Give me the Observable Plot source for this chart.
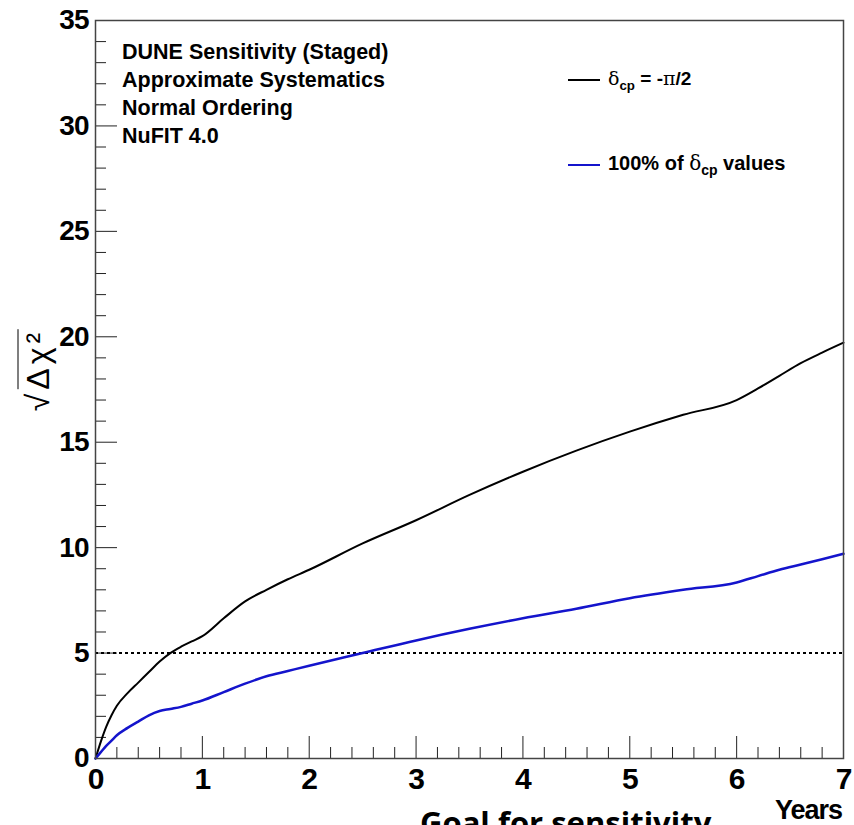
<!DOCTYPE html>
<html><head><meta charset="utf-8">
<script src="https://cdn.jsdelivr.net/npm/d3@7"></script>
<script src="https://cdn.jsdelivr.net/npm/@observablehq/plot@0.6"></script>
<style>
html,body{margin:0;padding:0;background:#fff;overflow:hidden;}
#wrap{position:relative;width:854px;height:825px;overflow:hidden;background:#fff;}
#wrap svg{position:absolute;left:0;top:0;}
.nb{font-family:"Liberation Sans",Arial,Helvetica,sans-serif;font-weight:bold;color:#000;}
.ov{position:absolute;white-space:nowrap;}
.sym{font-family:"DejaVu Serif","Liberation Serif",serif;font-weight:normal;}
.sw{display:inline-block;width:32px;height:2px;vertical-align:middle;margin-right:8px;}
sub{font-size:70%;vertical-align:-5px;line-height:0;}
#ytitle{position:absolute;left:38px;top:370px;transform:translate(-50%,-50%) rotate(-90deg);font-family:"Liberation Sans",Arial,sans-serif;font-size:32px;white-space:nowrap;letter-spacing:4px;}
#ytitle .rad{border-top:1.5px solid #000;padding-top:1px;}
</style></head><body>
<div id="wrap"></div>
<script>
// Data
const years         = [0, 0.05, 0.1, 0.15, 0.2, 0.3, 0.4, 0.5, 0.6, 0.7, 0.8, 0.9, 1.0, 1.2, 1.4, 1.6, 1.8, 2.0, 2.5, 3.0, 3.5, 4.0, 4.5, 5.0, 5.5, 6.0, 6.2, 6.4, 6.6, 6.8, 7.0];
const deltaMinusPi2 = [0, 0.8, 1.5, 2.05, 2.5, 3.1, 3.6, 4.1, 4.6, 5.0, 5.3, 5.55, 5.8, 6.65, 7.45, 8.0, 8.5, 8.95, 10.2, 11.3, 12.5, 13.6, 14.6, 15.5, 16.3, 17.0, 17.55, 18.15, 18.75, 19.25, 19.72];
const allDeltaCP    = [0, 0.3, 0.6, 0.85, 1.1, 1.45, 1.75, 2.05, 2.25, 2.35, 2.45, 2.6, 2.75, 3.15, 3.55, 3.9, 4.15, 4.4, 5.0, 5.6, 6.15, 6.65, 7.1, 7.6, 8.0, 8.35, 8.65, 8.95, 9.2, 9.45, 9.71];
const goalLevel = [5];
const xMajorTicks = [0, 1, 2, 3, 4, 5, 6, 7];
const xMinorTicks = [0.2,0.4,0.6,0.8,1.2,1.4,1.6,1.8,2.2,2.4,2.6,2.8,3.2,3.4,3.6,3.8,4.2,4.4,4.6,4.8,5.2,5.4,5.6,5.8,6.2,6.4,6.6,6.8];
const yMajorTicks = [0, 5, 10, 15, 20, 25, 30, 35];
const yMinorTicks = [1,2,3,4,6,7,8,9,11,12,13,14,16,17,18,19,21,22,23,24,26,27,28,29,31,32,33,34];
const annotationLines = ["DUNE Sensitivity (Staged)", "Approximate Systematics", "Normal Ordering", "NuFIT 4.0"];
const seriesColors = {minusPi2: "#000000", all: "#1414cc"};

const rows = years.map((t, i) => ({t, a: deltaMinusPi2[i], b: allDeltaCP[i]}));
const FF = '"Liberation Sans",Arial,Helvetica,sans-serif';

const chart = Plot.plot({
  width: 854, height: 825,
  marginLeft: 95, marginRight: 11, marginTop: 20, marginBottom: 67,
  x: {domain: [0, 7], label: null},
  y: {domain: [0, 35], label: null},
  style: {background: "transparent", overflow: "visible"},
  marks: [
    Plot.axisX(xMinorTicks, {tickSize: -11, tickFormat: () => "", stroke: "#222", label: null}),
    Plot.axisX(xMajorTicks, {tickSize: -22, tickPadding: 31, tickFormat: d => String(d), stroke: "#222", fill: "#000",
      fontSize: 30, fontFamily: FF, fontWeight: "bold", label: null}),
    Plot.axisY(yMinorTicks, {tickSize: -11, tickFormat: () => "", stroke: "#222", label: null}),
    Plot.axisY(yMajorTicks, {tickSize: -22, tickPadding: 29, tickFormat: d => String(d), stroke: "#222", fill: "#000",
      fontSize: 28, fontFamily: FF, fontWeight: "bold", label: null}),
    Plot.ruleY(goalLevel, {stroke: "#000", strokeWidth: 2, strokeDasharray: "3,3"}),
    Plot.line(rows, {x: "t", y: "a", stroke: seriesColors.minusPi2, strokeWidth: 2, curve: "monotone-x"}),
    Plot.line(rows, {x: "t", y: "b", stroke: seriesColors.all, strokeWidth: 2.5, curve: "monotone-x"}),
    Plot.frame({stroke: "#444", strokeWidth: 1.5})
  ]
});
const wrap = document.getElementById("wrap");
wrap.appendChild(chart);
chart.querySelectorAll("[aria-label$='tick label'] text").forEach(t => t.setAttribute("letter-spacing", "-1"));

// Annotation block
const ann = document.createElement("div");
ann.className = "ov nb";
ann.style.cssText = "left:122px;top:38px;font-size:21.5px;line-height:28px;";
ann.innerHTML = annotationLines.join("<br>");
wrap.appendChild(ann);

// Legend
const leg1 = document.createElement("div");
leg1.className = "ov nb";
leg1.style.cssText = "left:568px;top:66px;font-size:19px;line-height:24px;";
leg1.innerHTML = `<span class="sw" style="background:${seriesColors.minusPi2}"></span><span class="sym">δ</span><sub>cp</sub> = -<span class="sym">π</span>/2`;
wrap.appendChild(leg1);
const leg2 = document.createElement("div");
leg2.className = "ov nb";
leg2.style.cssText = "left:568px;top:150px;font-size:20px;line-height:26px;";
leg2.innerHTML = `<span class="sw" style="background:${seriesColors.all}"></span>100% of <span class="sym">δ</span><sub>cp</sub> values`;
wrap.appendChild(leg2);

// Axis titles
const yt = document.createElement("div");
yt.id = "ytitle";
yt.innerHTML = `√<span class="rad">Δχ²</span>`;
wrap.appendChild(yt);
const xt = document.createElement("div");
xt.className = "ov nb";
xt.style.cssText = "right:12px;top:795px;font-size:27px;line-height:30px;letter-spacing:-1px;";
xt.textContent = "Years";
wrap.appendChild(xt);

// Cut-off slide caption at the very bottom
const cap = document.createElement("div");
cap.className = "ov";
cap.style.cssText = "left:420px;top:802px;font-family:'Open Sans','Liberation Sans',sans-serif;font-weight:bold;font-size:31px;line-height:40px;";
cap.textContent = "Goal for sensitivity";
wrap.appendChild(cap);
</script>
</body></html>
